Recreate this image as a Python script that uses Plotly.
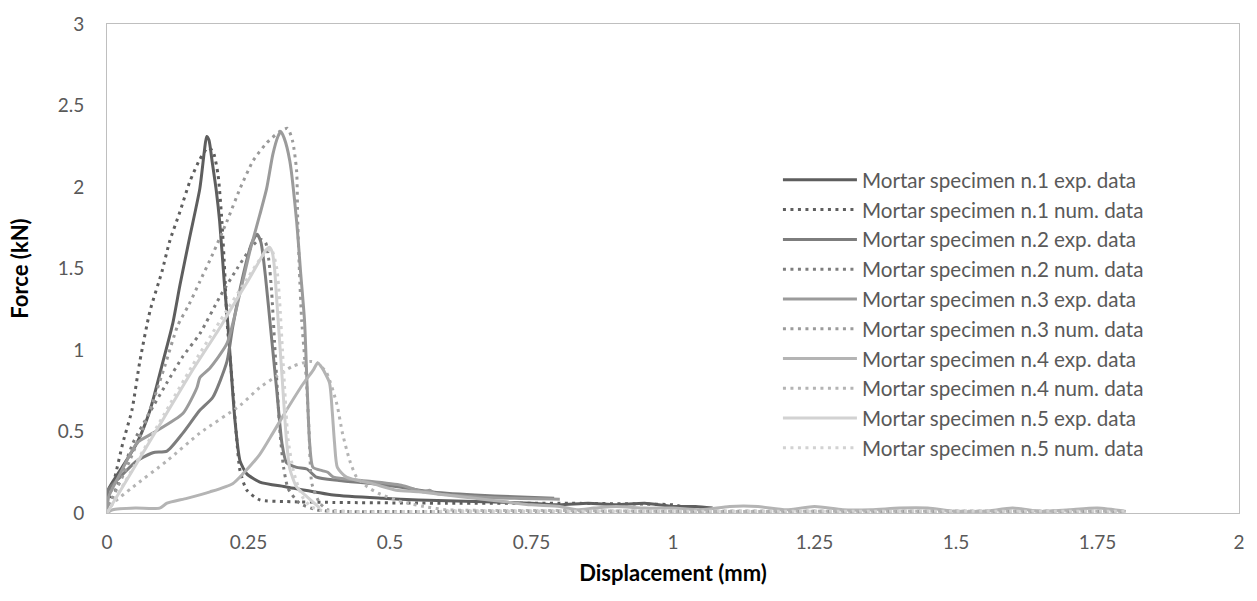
import plotly.graph_objects as go

# Force-displacement curves of five mortar specimens: experimental vs numerical
names = [
    "Mortar specimen n.1 exp. data", "Mortar specimen n.1 num. data",
    "Mortar specimen n.2 exp. data", "Mortar specimen n.2 num. data",
    "Mortar specimen n.3 exp. data", "Mortar specimen n.3 num. data",
    "Mortar specimen n.4 exp. data", "Mortar specimen n.4 num. data",
    "Mortar specimen n.5 exp. data", "Mortar specimen n.5 num. data",
]

# Specimen 1
x1_exp = [0, 0.002, 0.023, 0.053, 0.076, 0.099, 0.116, 0.129, 0.146, 0.164, 0.172, 0.176, 0.18, 0.186,
          0.193, 0.199, 0.208, 0.213, 0.226, 0.235, 0.247, 0.27, 0.317, 0.4, 0.487, 0.55, 0.65, 0.75,
          0.8, 0.85, 0.9, 0.95, 1.0, 1.04, 1.07]
y1_exp = [0, 0.14, 0.26, 0.43, 0.63, 0.93, 1.16, 1.40, 1.69, 1.99, 2.22, 2.31, 2.29, 2.15,
          1.98, 1.79, 1.38, 1.18, 0.57, 0.32, 0.24, 0.19, 0.16, 0.11, 0.09, 0.08, 0.07, 0.06,
          0.05, 0.06, 0.05, 0.06, 0.04, 0.04, 0.03]
x1_num = [0, 0.005, 0.014, 0.028, 0.044, 0.058, 0.076, 0.097, 0.111, 0.129, 0.146, 0.164, 0.178, 0.187,
          0.196, 0.203, 0.208, 0.212, 0.222, 0.229, 0.235, 0.247, 0.27, 0.317, 0.4, 0.6, 0.8, 0.95,
          1.0, 1.03, 1.06]
y1_num = [0, 0.10, 0.22, 0.43, 0.63, 0.93, 1.24, 1.48, 1.67, 1.85, 2.03, 2.17, 2.24, 2.22,
          2.08, 1.79, 1.48, 1.18, 0.77, 0.46, 0.26, 0.14, 0.08, 0.07, 0.065, 0.06, 0.06, 0.055,
          0.05, 0.03, 0.01]

# Specimen 2
x2_exp = [0, 0.002, 0.023, 0.053, 0.081, 0.106, 0.134, 0.164, 0.187, 0.212, 0.222, 0.24, 0.255, 0.265,
          0.272, 0.28, 0.29, 0.3, 0.309, 0.317, 0.335, 0.353, 0.37, 0.41, 0.47, 0.517, 0.57, 0.65,
          0.72, 0.79]
y2_exp = [0, 0.14, 0.22, 0.32, 0.37, 0.38, 0.49, 0.63, 0.71, 0.93, 1.14, 1.45, 1.65, 1.71,
          1.66, 1.45, 1.10, 0.75, 0.43, 0.31, 0.28, 0.27, 0.22, 0.20, 0.18, 0.16, 0.13, 0.11,
          0.10, 0.09]
x2_num = [0, 0.03, 0.046, 0.076, 0.106, 0.134, 0.164, 0.2, 0.23, 0.255, 0.27, 0.28, 0.286, 0.291,
          0.296, 0.301, 0.306, 0.312, 0.32, 0.34, 0.37, 0.4, 0.6, 0.8, 1.0, 1.2, 1.4, 1.6, 1.8]
y2_num = [0, 0.28, 0.43, 0.62, 0.80, 0.96, 1.10, 1.33, 1.50, 1.63, 1.68, 1.66, 1.55, 1.35,
          1.05, 0.75, 0.48, 0.28, 0.15, 0.06, 0.02, 0.01, 0.01, 0.01, 0.01, 0.01, 0.01, 0.01, 0.01]

# Specimen 3
x3_exp = [0, 0.003, 0.023, 0.053, 0.081, 0.134, 0.159, 0.164, 0.182, 0.212, 0.235, 0.252, 0.27, 0.282,
          0.293, 0.302, 0.307, 0.313, 0.323, 0.335, 0.342, 0.349, 0.353, 0.358, 0.364, 0.38, 0.39,
          0.40, 0.45, 0.52, 0.56, 0.57, 0.58, 0.65, 0.72, 0.8]
y3_exp = [0, 0.10, 0.24, 0.43, 0.49, 0.61, 0.77, 0.83, 0.89, 1.04, 1.35, 1.60, 1.83, 1.99,
          2.20, 2.31, 2.34, 2.30, 2.16, 1.79, 1.48, 1.18, 0.83, 0.43, 0.28, 0.26, 0.25,
          0.22, 0.20, 0.17, 0.13, 0.14, 0.12, 0.10, 0.09, 0.085]
x3_num = [0, 0.011, 0.035, 0.058, 0.081, 0.102, 0.125, 0.145, 0.164, 0.187, 0.212, 0.235, 0.258, 0.282,
          0.305, 0.319, 0.328, 0.335, 0.337, 0.34, 0.344, 0.352, 0.357, 0.362, 0.376, 0.39, 0.42,
          0.6, 0.8, 1.0, 1.2, 1.4, 1.6, 1.8]
y3_num = [0, 0.10, 0.28, 0.47, 0.68, 0.90, 1.15, 1.28, 1.42, 1.59, 1.79, 1.99, 2.16, 2.27,
          2.34, 2.36, 2.28, 2.10, 1.79, 1.48, 1.18, 0.83, 0.50, 0.18, 0.06, 0.02, 0.01,
          0.01, 0.01, 0.01, 0.01, 0.01, 0.01, 0.01]

# Specimen 4
x4_exp = [0, 0.01, 0.05, 0.093, 0.106, 0.141, 0.182, 0.222, 0.24, 0.27, 0.293, 0.317, 0.346, 0.365,
          0.372, 0.38, 0.393, 0.398, 0.402, 0.407, 0.423, 0.469, 0.511, 0.55, 0.6, 0.65, 0.7,
          0.75, 0.8, 0.83, 0.86, 0.9, 0.95, 1.0, 1.05, 1.1, 1.15, 1.2, 1.25, 1.3, 1.35, 1.4,
          1.45, 1.5, 1.55, 1.6, 1.65, 1.7, 1.75, 1.8]
y4_exp = [0, 0.02, 0.03, 0.03, 0.06, 0.09, 0.13, 0.18, 0.24, 0.36, 0.49, 0.63, 0.79, 0.88,
          0.92, 0.89, 0.80, 0.62, 0.43, 0.28, 0.22, 0.18, 0.14, 0.13, 0.11, 0.09, 0.07,
          0.05, 0.04, 0.02, 0.03, 0.04, 0.03, 0.03, 0.02, 0.04, 0.04, 0.02, 0.04, 0.02, 0.02, 0.03,
          0.03, 0.01, 0.01, 0.03, 0.01, 0.02, 0.03, 0.01]
x4_num = [0, 0.011, 0.046, 0.106, 0.164, 0.235, 0.27, 0.3, 0.328, 0.358, 0.372, 0.388, 0.406, 0.416,
          0.429, 0.441, 0.46, 0.48, 0.52, 0.56, 0.6, 0.8, 1.0, 1.2, 1.4, 1.6, 1.8]
y4_num = [0, 0.06, 0.16, 0.32, 0.49, 0.66, 0.77, 0.84, 0.90, 0.93, 0.92, 0.86, 0.67, 0.49,
          0.32, 0.22, 0.16, 0.12, 0.07, 0.04, 0.02, 0.015, 0.01, 0.01, 0.01, 0.01, 0.01]

# Specimen 5
x5_exp = [0, 0.05, 0.1, 0.15, 0.2, 0.217, 0.25, 0.27, 0.28, 0.287, 0.292, 0.296, 0.3, 0.305,
          0.31, 0.317, 0.323, 0.335, 0.353, 0.376]
y5_exp = [0, 0.29, 0.58, 0.87, 1.14, 1.24, 1.43, 1.55, 1.61, 1.63, 1.60, 1.50, 1.30, 1.05,
          0.80, 0.45, 0.27, 0.16, 0.10, 0.03]
x5_num = [0, 0.05, 0.1, 0.15, 0.2, 0.25, 0.275, 0.29, 0.3, 0.305, 0.31, 0.315, 0.32, 0.33,
          0.345, 0.36, 0.38, 0.6, 0.8, 1.0, 1.2, 1.4, 1.6, 1.8]
y5_num = [0, 0.30, 0.60, 0.90, 1.18, 1.45, 1.58, 1.62, 1.50, 1.30, 1.00, 0.70, 0.45, 0.25,
          0.10, 0.04, 0.015, 0.01, 0.01, 0.01, 0.01, 0.01, 0.01, 0.01]

xs = [x1_exp, x1_num, x2_exp, x2_num, x3_exp, x3_num, x4_exp, x4_num, x5_exp, x5_num]
ys = [y1_exp, y1_num, y2_exp, y2_num, y3_exp, y3_num, y4_exp, y4_num, y5_exp, y5_num]
greys = ["#5e5e5e", "#7d7d7d", "#9b9b9b", "#b4b4b4", "#d2d2d2"]

fig = go.Figure()
for i, (name, x, y) in enumerate(zip(names, xs, ys)):
    colour = greys[i // 2]
    dotted = i % 2 == 1
    fig.add_trace(go.Scatter(
        x=x, y=y, mode="lines", name=name,
        line=dict(color=colour, width=3, shape="spline", smoothing=0.6,
                  dash="3px,4.5px" if dotted else "solid"),
    ))

tick_font = dict(family="Lato", size=19, color="#595959")
title_font = dict(family="Lato", size=22, color="#000000")

fig.update_layout(
    width=1257, height=601,
    margin=dict(l=107, r=16, t=20, b=88),
    paper_bgcolor="white", plot_bgcolor="white",
    showlegend=True,
    legend=dict(
        x=0.5927, y=0.722, xanchor="left", yanchor="top",
        font=dict(family="Lato", size=20.6, color="#595959"),
        bgcolor="rgba(0,0,0,0)", traceorder="normal",
        itemwidth=74,
    ),
    xaxis=dict(
        range=[0, 2], tickvals=[0, 0.25, 0.5, 0.75, 1, 1.25, 1.5, 1.75, 2],
        ticktext=["0", "0.25", "0.5", "0.75", "1", "1.25", "1.5", "1.75", "2"],
        showgrid=False, zeroline=False, showline=True, mirror=True,
        linecolor="#bfbfbf", linewidth=1, ticks="",
        tickfont=tick_font, ticklabelstandoff=12,
        title=dict(text="<b>Displacement (mm)</b>", font=title_font, standoff=13),
    ),
    yaxis=dict(
        range=[0, 3], tickvals=[0, 0.5, 1, 1.5, 2, 2.5, 3],
        ticktext=["0", "0.5", "1", "1.5", "2", "2.5", "3"],
        showgrid=False, zeroline=False, showline=True, mirror=True,
        linecolor="#bfbfbf", linewidth=1, ticks="",
        tickfont=tick_font, ticklabelstandoff=18,
        title=dict(text="<b>Force (kN)</b>", font=title_font, standoff=22),
    ),
)

fig.write_html("out.html")
